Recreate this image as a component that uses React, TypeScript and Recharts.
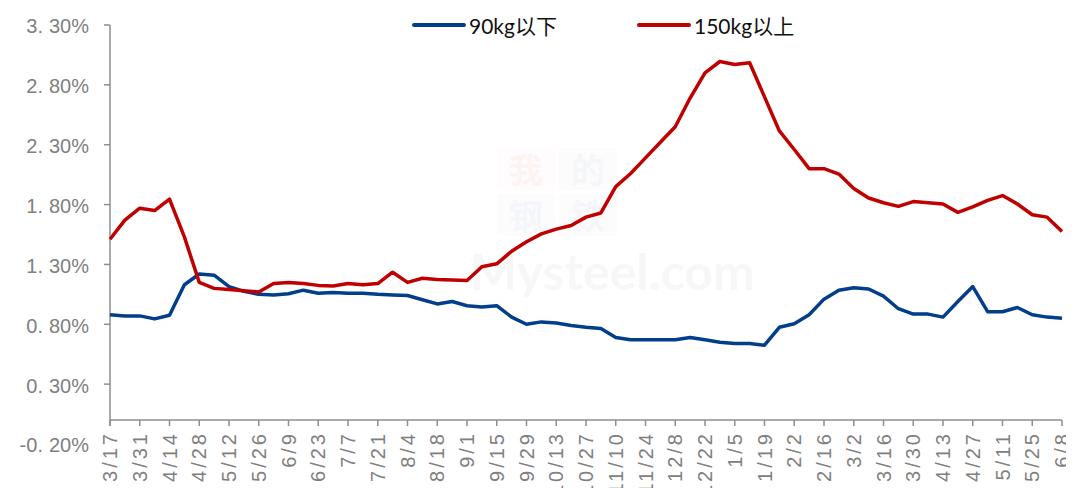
import React from 'react';
import { LineChart, Line, XAxis, YAxis, ReferenceLine } from 'recharts';

const dates = [
  '3/17', '3/24', '3/31', '4/7', '4/14', '4/21', '4/28', '5/5', '5/12', '5/19',
  '5/26', '6/2', '6/9', '6/16', '6/23', '6/30', '7/7', '7/14', '7/21', '7/28',
  '8/4', '8/11', '8/18', '8/25', '9/1', '9/8', '9/15', '9/22', '9/29', '10/6',
  '10/13', '10/20', '10/27', '11/3', '11/10', '11/17', '11/24', '12/1', '12/8', '12/15',
  '12/22', '12/29', '1/5', '1/12', '1/19', '1/26', '2/2', '2/9', '2/16', '2/23',
  '3/2', '3/9', '3/16', '3/23', '3/30', '4/6', '4/13', '4/20', '4/27', '5/4',
  '5/11', '5/18', '5/25', '6/1', '6/8',
];

const below90 = [
  0.88, 0.87, 0.87, 0.845, 0.875, 1.13, 1.22, 1.21, 1.115, 1.075,
  1.05, 1.045, 1.055, 1.085, 1.06, 1.065, 1.06, 1.06, 1.05, 1.045,
  1.04, 1.005, 0.97, 0.99, 0.955, 0.945, 0.955, 0.86, 0.8, 0.82,
  0.81, 0.79, 0.775, 0.765, 0.69, 0.67, 0.67, 0.67, 0.67, 0.69,
  0.67, 0.65, 0.64, 0.64, 0.625, 0.775, 0.805, 0.88, 1.01, 1.085,
  1.105, 1.095, 1.035, 0.93, 0.885, 0.885, 0.86, 0.99, 1.115, 0.905,
  0.905, 0.94, 0.88, 0.86, 0.85,
];

const above150 = [
  1.51, 1.67, 1.77, 1.75, 1.845, 1.53, 1.15, 1.1, 1.09, 1.08,
  1.07, 1.14, 1.15, 1.14, 1.125, 1.12, 1.14, 1.13, 1.14, 1.235,
  1.15, 1.185, 1.175, 1.17, 1.165, 1.28, 1.305, 1.41, 1.49, 1.555,
  1.595, 1.625, 1.695, 1.73, 1.95, 2.06, 2.19, 2.32, 2.45, 2.69,
  2.9, 2.995, 2.97, 2.985, 2.7, 2.415, 2.26, 2.1, 2.1, 2.055,
  1.935, 1.855, 1.815, 1.785, 1.825, 1.815, 1.805, 1.735, 1.78, 1.835,
  1.875, 1.805, 1.715, 1.695, 1.575,
];

const yTicks = [-0.2, 0.3, 0.8, 1.3, 1.8, 2.3, 2.8, 3.3];
const seriesKeys = ['below90', 'above150'];
const seriesNames = ['90kg以下', '150kg以上'];
const seriesColors = ['#023E8A', '#C00000'];
const legendLefts = [404, 629];

const data = dates.map((d, i) => ({ date: d, below90: below90[i], above150: above150[i] }));

const W = 1066;
const H = 480;
const AXIS = '#8E8E8E';
const LABEL = '#808080';
const FONT = '"Liberation Sans", Arial, sans-serif';
const Y_TICK_SIZE = 6;
const Y_TICK_MARGIN = 15;

const YTick = (props: any) => {
  const { x, y, payload } = props;
  const v: number = payload.value;
  const s = Math.abs(v).toFixed(2);
  const [ip, dp] = s.split('.');
  const sign = v < 0 ? '-' : '';
  return (
    <g>
      {v >= 0 && (
        <line
          x1={x + Y_TICK_MARGIN}
          x2={x + Y_TICK_MARGIN + Y_TICK_SIZE}
          y1={y}
          y2={y}
          stroke={AXIS}
          strokeWidth={1.5}
        />
      )}
      <text x={x} y={y} dy="0.42em" textAnchor="end" fill={LABEL} fontSize={20} fontFamily={FONT}>
        <tspan>{sign}{ip}.</tspan>
        <tspan dx={6}>{dp}%</tspan>
      </text>
    </g>
  );
};

const XTick = (props: any) => {
  const { x, y, payload } = props;
  return (
    <text
      transform={`translate(${x},${y - 13}) rotate(-90)`}
      textAnchor="end"
      dy="0.36em"
      fill={LABEL}
      fontSize={20}
      fontFamily={FONT}
      letterSpacing={3}
    >
      {payload.value}
    </text>
  );
};

const Legend = () => (
  <>
    {seriesNames.map((n, i) => (
      <div
        key={n}
        style={{
          position: 'absolute',
          left: legendLefts[i],
          top: 5,
          height: 24,
          display: 'flex',
          alignItems: 'center',
          fontFamily: 'Lato, "Noto Sans CJK SC", sans-serif',
          fontSize: 21,
          color: '#111',
          whiteSpace: 'nowrap',
        }}
      >
        <div style={{ width: 54, height: 4, borderRadius: 2, background: seriesColors[i] }} />
        <span style={{ marginLeft: 3 }}>{n}</span>
      </div>
    ))}
  </>
);

const Watermark = () => (
  <div style={{ position: 'absolute', left: 462, top: 140, width: 280, pointerEvents: 'none', opacity: 0.045 }}>
    <div style={{ display: 'grid', gridTemplateColumns: '58px 58px', gap: 4, marginLeft: 27, fontFamily: '"Noto Sans CJK SC", serif', fontSize: 34, lineHeight: '42px', fontWeight: 700 }}>
      <div style={{ color: '#d00', background: '#f4c0c0', textAlign: 'center' }}>我</div>
      <div style={{ color: '#2040a0', background: '#c0c8e8', textAlign: 'center' }}>的</div>
      <div style={{ color: '#2040a0', background: '#c0c8e8', textAlign: 'center' }}>钢</div>
      <div style={{ color: '#2040a0', background: '#c0c8e8', textAlign: 'center' }}>铁</div>
    </div>
    <div style={{ fontFamily: 'Lato, sans-serif', fontSize: 50, lineHeight: '50px', fontWeight: 700, color: '#555', marginTop: 10 }}>Mysteel.com</div>
  </div>
);

export default function App() {
  return (
    <div style={{ position: 'relative', width: W, height: H }}>
      <Watermark />
      <LineChart width={W} height={H} data={data} margin={{ top: 17, right: 12, bottom: 0, left: 0 }}>
        <XAxis
          dataKey="date"
          interval={1}
          axisLine={false}
          tickLine={false}
          tickSize={0}
          tickMargin={0}
          height={44}
          tick={<XTick />}
        />
        <YAxis
          domain={[-0.2, 3.3]}
          ticks={yTicks}
          width={102}
          axisLine={false}
          tickLine={false}
          tickSize={Y_TICK_SIZE}
          tickMargin={Y_TICK_MARGIN}
          tick={<YTick />}
          allowDataOverflow
        />
        <ReferenceLine y={0} stroke={AXIS} strokeWidth={1.5} />
        <ReferenceLine
          segment={[{ x: dates[0], y: -0.05 }, { x: dates[0], y: 3.3 }]}
          stroke={AXIS}
          strokeWidth={1.5}
        />
        {dates
          .filter((_, i) => i % 2 === 0)
          .map((d) => (
            <ReferenceLine
              key={d}
              segment={[{ x: d, y: 0 }, { x: d, y: -0.05 }]}
              stroke={AXIS}
              strokeWidth={1.5}
            />
          ))}
        {seriesKeys.map((k, i) => (
          <Line
            key={k}
            type="linear"
            dataKey={k}
            name={seriesNames[i]}
            stroke={seriesColors[i]}
            strokeWidth={3.5}
            dot={false}
            activeDot={false}
            isAnimationActive={false}
            strokeLinejoin="round"
          />
        ))}
      </LineChart>
      <Legend />
    </div>
  );
}
